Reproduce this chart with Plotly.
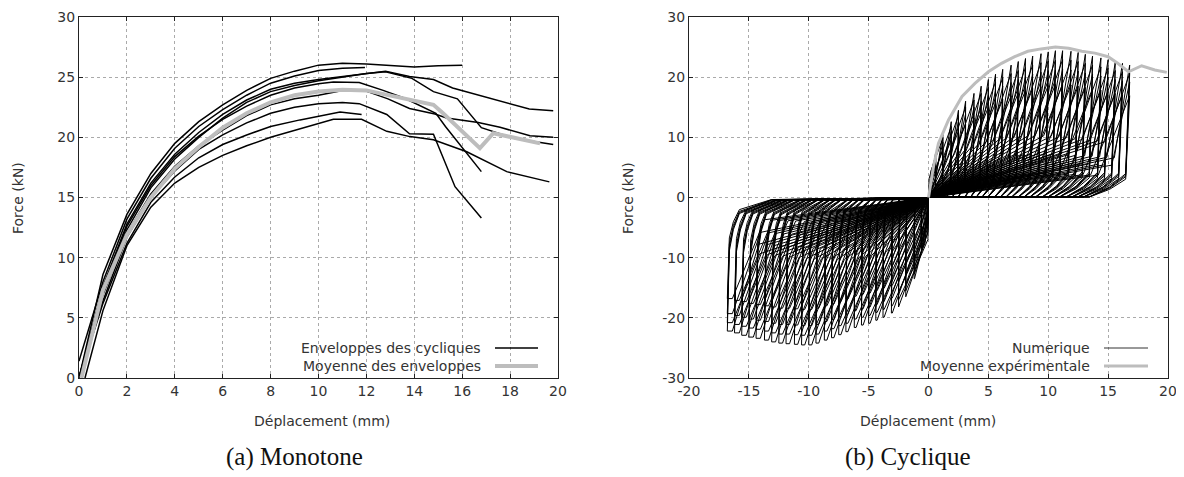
import plotly.graph_objects as go

W, H = 1184, 477
OFF = 8  # page body margin offset of the figure in the browser window

# ---------------- Left panel: monotone envelopes ----------------
env_curves = [
    ([0, 1, 2, 3, 4, 5, 6, 7, 8, 9, 10, 11, 12, 13, 14, 15, 16],
     [0, 8.6, 13.6, 17.0, 19.5, 21.3, 22.7, 23.9, 24.9, 25.5, 26.0, 26.15, 26.1, 26.0, 25.85, 25.95, 26.0]),
    ([0, 1, 2, 3, 4, 5, 6, 7, 8, 9, 10, 11, 11.94],
     [1.4, 8.0, 13.2, 16.6, 19.1, 20.9, 22.3, 23.5, 24.5, 25.1, 25.55, 25.75, 25.8]),
    ([0, 1, 2, 3, 4, 5, 6, 7, 8, 9, 10, 11, 12, 12.8, 13.8, 14.8, 15.6, 16.7, 18.1, 18.8, 19.8],
     [0, 7.6, 12.8, 16.2, 18.6, 20.4, 21.9, 23.1, 24.0, 24.5, 24.8, 25.05, 25.3, 25.5, 25.05, 24.8, 24.1, 23.5, 22.7, 22.35, 22.2]),
    ([0, 1, 2, 3, 4, 5, 6, 7, 8, 9, 10, 11, 12, 12.8, 13.9, 14.8, 15.8, 16.8, 17.3, 18.2, 19.8],
     [0, 7.2, 12.3, 15.8, 18.2, 20.0, 21.6, 22.9, 23.8, 24.3, 24.7, 25.0, 25.3, 25.45, 24.9, 23.8, 23.2, 20.8, 20.5, 19.9, 19.4]),
    ([0, 1, 2, 3, 4, 5, 6, 7, 8, 9, 10, 11, 11.9, 12.9, 13.8, 14.86, 15.35, 16.67, 17.58, 18.83, 19.8],
     [0, 6.9, 12.0, 15.3, 17.6, 19.3, 20.6, 21.8, 22.7, 23.2, 23.5, 23.9, 23.9, 23.2, 22.4, 21.94, 21.6, 21.24, 20.83, 20.14, 20.0]),
    ([0, 1, 2, 3, 4, 5, 6, 7, 8, 9, 10, 10.62, 11.7, 12.7, 13.6, 14.9, 15.3, 16.8],
     [0, 7.4, 12.6, 16.0, 18.4, 20.1, 21.5, 22.6, 23.5, 24.1, 24.46, 24.6, 24.55, 23.9, 23.25, 22.0, 20.9, 17.15]),
    ([0, 1, 2, 3, 4, 5, 6, 7, 8, 9, 10, 11, 11.7, 12.85, 13.8, 14.8, 15.7, 16.8],
     [0, 6.4, 11.7, 15.0, 17.2, 19.0, 20.2, 21.2, 22.0, 22.5, 22.8, 22.9, 22.8, 21.9, 20.3, 20.25, 15.9, 13.3]),
    ([0.25, 1, 2, 3, 4, 5, 6, 7, 8, 9.23, 10.62, 11.8, 12.85, 13.82, 14.8, 16.19, 17.86, 19.64],
     [0, 5.6, 11.0, 14.2, 16.2, 17.5, 18.5, 19.3, 20.0, 20.7, 21.5, 21.5, 20.5, 20.06, 19.8, 18.8, 17.15, 16.3]),
    ([0, 1, 2, 3, 4, 5, 6, 7, 8, 9.23, 10.9, 11.8],
     [0, 6.2, 11.2, 14.6, 16.7, 18.3, 19.4, 20.2, 20.9, 21.45, 22.1, 21.9]),
]

mean_disp = [0.1, 1, 2, 3, 4, 5, 6, 7, 8, 9, 10, 11, 12, 12.85, 13.82, 14.8, 15.2, 15.77, 16.74, 17.3, 17.86, 18.4, 19.25]
mean_force = [0, 7.3, 11.9, 15.0, 17.4, 19.2, 20.8, 22.0, 22.9, 23.5, 23.8, 23.95, 23.9, 23.52, 23.1, 22.7, 22.0, 20.9, 19.1, 20.34, 20.1, 19.8, 19.5]

# ---------------- Right panel: cyclic ----------------
cyc_amp = [0.6, 1.2, 1.9, 2.5, 3.1, 3.8, 4.4, 5.0, 5.6, 6.2, 6.9, 7.5, 8.1, 8.7,
           9.4, 10.0, 10.6, 11.2, 11.9, 12.5, 13.1, 13.7, 14.4, 15.0, 15.6, 16.2, 16.8]
cyc_peak_pos = [7.5, 10.5, 12.6, 14.5, 16.0, 17.3, 18.5, 19.6, 20.5, 21.3, 22.0, 22.6, 23.1, 23.5,
                23.9, 24.2, 24.4, 24.4, 24.3, 24.1, 23.8, 23.5, 23.2, 22.9, 22.5, 22.3, 22.0]
cyc_peak_pos_mid = [7.0, 9.9, 11.8, 13.6, 15.0, 16.2, 17.3, 18.3, 19.2, 19.9, 20.6, 21.1, 21.6, 22.0,
                    22.4, 22.7, 22.8, 22.9, 22.8, 22.6, 22.3, 22.0, 21.7, 21.5, 21.1, 20.9, 20.6]
cyc_peak_pos_rep = [6.5, 9.2, 11.0, 12.6, 13.9, 15.0, 16.0, 17.0, 17.8, 18.5, 19.1, 19.6, 20.1, 20.5,
                    20.8, 21.1, 21.2, 21.3, 21.2, 21.0, 20.7, 20.5, 20.2, 20.0, 19.6, 19.4, 19.2]
cyc_peak_pos_low = [5.5, 8.0, 9.6, 11.0, 12.2, 13.2, 14.1, 15.0, 15.7, 16.3, 16.9, 17.4, 17.8, 18.1,
                    18.4, 18.6, 18.8, 18.8, 18.7, 18.5, 18.3, 18.1, 17.8, 17.6, 17.3, 17.1, 16.9]
cyc_peak_neg = [9.0, 13.5, 16.5, 18.2, 19.2, 19.9, 20.4, 20.9, 21.2, 21.6, 22.3, 22.8, 23.3, 23.7,
                24.2, 24.5, 24.5, 24.4, 24.3, 24.2, 24.0, 23.7, 23.4, 23.2, 22.9, 22.5, 22.2]
cyc_peak_neg_mid = [8.4, 12.7, 15.5, 17.0, 18.0, 18.6, 19.1, 19.6, 19.9, 20.2, 20.9, 21.3, 21.8, 22.2,
                    22.7, 22.9, 22.9, 22.8, 22.7, 22.7, 22.5, 22.2, 21.9, 21.7, 21.4, 21.1, 20.8]
cyc_peak_neg_rep = [7.8, 11.8, 14.4, 15.8, 16.7, 17.3, 17.8, 18.2, 18.5, 18.8, 19.4, 19.8, 20.3, 20.6,
                    21.1, 21.3, 21.3, 21.2, 21.1, 21.1, 20.9, 20.6, 20.4, 20.2, 19.9, 19.6, 19.3]
cyc_peak_neg_low = [6.8, 10.3, 12.6, 13.8, 14.6, 15.1, 15.5, 15.9, 16.1, 16.4, 16.9, 17.3, 17.7, 18.0,
                    18.4, 18.6, 18.6, 18.5, 18.4, 18.4, 18.2, 18.0, 17.8, 17.6, 17.3, 17.1, 16.8]

exp_disp = [0, 0.4, 0.83, 1.67, 2.8, 3.9, 5.0, 6.1, 7.2, 8.3, 9.4, 10.6, 11.7, 12.8, 13.9, 15.0, 15.8, 16.7, 17.8, 18.9, 19.9]
exp_force = [0, 5.0, 9.0, 12.9, 16.8, 19.0, 20.9, 22.3, 23.4, 24.3, 24.7, 25.0, 24.8, 24.3, 24.0, 23.4, 22.3, 20.9, 21.9, 21.2, 20.8]


def loop_path(A, P, N, kp, kn, fp, fn):
    """Vertices of one pinched hysteresis cycle: pinching line, peak, steep branch, slack."""
    xs, ys = [0.0], [0.0]
    xs.append(max(A - 0.7 * P / kp, 0.05)); ys.append(fp * P)
    xs.append(A); ys.append(P)
    for fx, fy in [(0.98, 0.18), (0.90, 0.08), (0.80, 0.005), (0.0, 0.0)]:
        xs.append(fx * A); ys.append(fy * P)
    xs.append(-max(A - 0.65 * N / kn, 0.05)); ys.append(-fn * N)
    xs.append(-0.975 * A); ys.append(-N)
    for fx, fy in [(1.0, 1.0), (0.99, 0.40), (0.97, 0.24), (0.94, 0.12), (0.78, 0.02), (0.0, 0.0)]:
        xs.append(-fx * A); ys.append(-fy * N)
    return xs, ys


cx, cy = [], []
for i, A in enumerate(cyc_amp):
    for P, N, kp, kn, fp, fn in [
        (cyc_peak_pos[i], cyc_peak_neg[i], 12.0, 5.5, 0.30, 0.35),
        (cyc_peak_pos_mid[i], cyc_peak_neg_mid[i], 7.0, 5.0, 0.45, 0.45),
        (cyc_peak_pos_rep[i], cyc_peak_neg_rep[i], 9.0, 4.5, 0.28, 0.30),
        (cyc_peak_pos_low[i], cyc_peak_neg_low[i], 4.5, 3.5, 0.22, 0.22),
    ]:
        x1, y1 = loop_path(A, P, N, kp, kn, fp, fn)
        cx += x1
        cy += y1

fig = go.Figure()

for d, f in env_curves:
    fig.add_trace(go.Scatter(x=d, y=f, mode="lines", line=dict(color="black", width=1.5),
                             showlegend=False, xaxis="x", yaxis="y"))
fig.add_trace(go.Scatter(x=mean_disp, y=mean_force, mode="lines",
                         line=dict(color="#bdbdbd", width=4), showlegend=False, xaxis="x", yaxis="y"))

fig.add_trace(go.Scatter(x=cx, y=cy, mode="lines", line=dict(color="black", width=1),
                         showlegend=False, xaxis="x2", yaxis="y2"))
fig.add_trace(go.Scatter(x=exp_disp, y=exp_force, mode="lines", line=dict(color="#bdbdbd", width=3),
                         showlegend=False, xaxis="x2", yaxis="y2"))

FONT = dict(family="DejaVu Sans", size=14, color="#333")
CAP_FONT = dict(family="Liberation Serif", size=25, color="#111")

def px_x(p):
    return (p - OFF) / W

def px_y(p):
    return 1 - (p - OFF) / H

axis_common = dict(showline=True, linecolor="#222", linewidth=1, mirror="allticks",
                   ticks="inside", ticklen=4, tickcolor="#222", showgrid=True,
                   gridcolor="#aaaaaa", griddash="dot", gridwidth=1, zeroline=False,
                   tickfont=FONT, automargin=False)

x1_ticks = [0, 2, 4, 6, 8, 10, 12, 14, 16, 18, 20]
y1_ticks = [0, 5, 10, 15, 20, 25, 30]
x2_ticks = [-20, -15, -10, -5, 0, 5, 10, 15, 20]
y2_ticks = [-30, -20, -10, 0, 10, 20, 30]

fig.update_layout(
    width=W, height=H, margin=dict(l=0, r=0, t=0, b=0, autoexpand=False),
    paper_bgcolor="white", plot_bgcolor="white", showlegend=False,
    xaxis=dict(domain=[px_x(79), px_x(558)], range=[0, 20], tickvals=x1_ticks,
               ticktext=[str(v) for v in x1_ticks], anchor="y", **axis_common),
    yaxis=dict(domain=[px_y(378), px_y(17)], range=[0, 30], tickvals=y1_ticks,
               ticktext=[str(v) for v in y1_ticks], anchor="x", **axis_common),
    xaxis2=dict(domain=[px_x(689), px_x(1168)], range=[-20, 20], tickvals=x2_ticks,
                ticktext=[str(v) for v in x2_ticks], anchor="y2", **axis_common),
    yaxis2=dict(domain=[px_y(378), px_y(17)], range=[-30, 30], tickvals=y2_ticks,
                ticktext=[str(v) for v in y2_ticks], anchor="x2", **axis_common),
)

ann = []
for cxp in (322, 928):
    ann.append(dict(x=px_x(cxp), y=px_y(421), xref="paper", yref="paper", text="Déplacement (mm)",
                    showarrow=False, font=FONT, xanchor="center", yanchor="middle"))
for cxp in (18, 628):
    ann.append(dict(x=px_x(cxp), y=px_y(198), xref="paper", yref="paper", text="Force (kN)",
                    showarrow=False, font=FONT, textangle=-90, xanchor="center", yanchor="middle"))
ann.append(dict(x=px_x(294), y=px_y(457), xref="paper", yref="paper", text="(a) Monotone",
                showarrow=False, font=CAP_FONT, xanchor="center", yanchor="middle"))
ann.append(dict(x=px_x(908), y=px_y(457), xref="paper", yref="paper", text="(b) Cyclique",
                showarrow=False, font=CAP_FONT, xanchor="center", yanchor="middle"))
leg = [
    (483, 348, "Enveloppes des cycliques", 495, 538, "black", 1.5),
    (483, 366, "Moyenne des enveloppes", 495, 538, "#bdbdbd", 4),
    (1092, 348, "Numerique", 1104, 1148, "#333", 1),
    (1092, 366, "Moyenne expérimentale", 1104, 1148, "#bdbdbd", 3),
]
shapes = []
for tx, ty, txt, x0, x1, col, wd in leg:
    ann.append(dict(x=px_x(tx), y=px_y(ty), xref="paper", yref="paper", text=txt, showarrow=False,
                    font=FONT, xanchor="right", yanchor="middle"))
    shapes.append(dict(type="line", xref="paper", yref="paper", x0=px_x(x0), x1=px_x(x1),
                       y0=px_y(ty), y1=px_y(ty), line=dict(color=col, width=wd)))

fig.update_layout(annotations=ann, shapes=shapes)
fig.write_html("out.html")
